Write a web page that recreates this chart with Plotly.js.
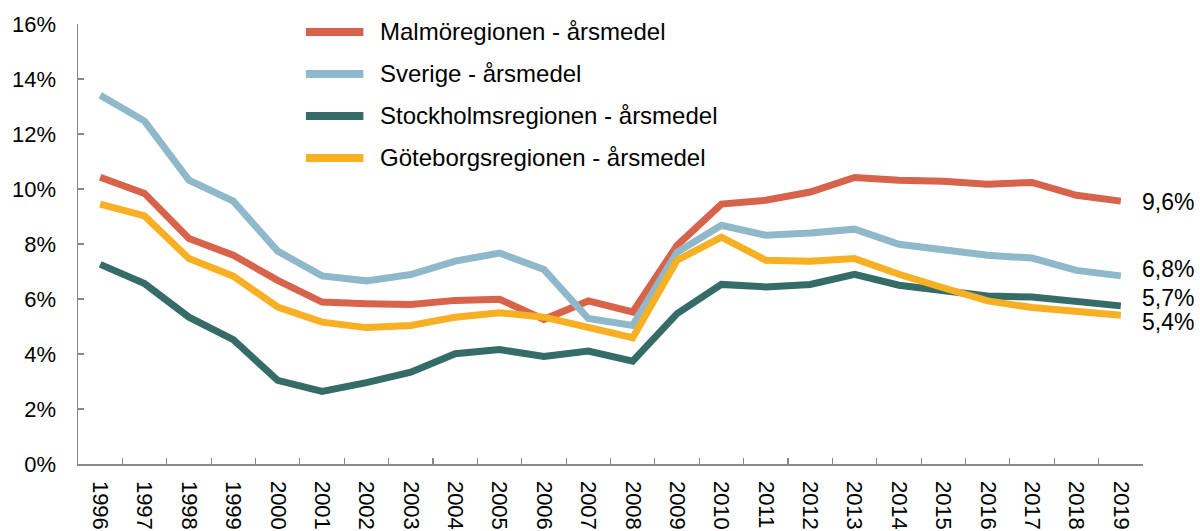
<!DOCTYPE html>
<html>
<head>
<meta charset="utf-8">
<script src="https://cdn.plot.ly/plotly-3.0.1.min.js"></script>
<style>html,body{margin:0;padding:0;background:#fff;}#chart{width:1200px;height:531px;}</style>
</head>
<body>
<div id="chart"></div>
<script>
const years = ['1996','1997','1998','1999','2000','2001','2002','2003','2004','2005','2006','2007','2008','2009','2010','2011','2012','2013','2014','2015','2016','2017','2018','2019'];
const seriesNames = ['Malmöregionen - årsmedel','Sverige - årsmedel','Stockholmsregionen - årsmedel','Göteborgsregionen - årsmedel'];
const malmo = [10.43,9.84,8.2,7.59,6.68,5.89,5.83,5.8,5.95,5.99,5.26,5.93,5.53,7.95,9.45,9.59,9.89,10.42,10.32,10.28,10.17,10.24,9.77,9.56];
const sverige = [13.41,12.47,10.32,9.56,7.74,6.84,6.66,6.89,7.38,7.67,7.07,5.29,5.04,7.7,8.68,8.32,8.4,8.54,7.99,7.81,7.59,7.49,7.04,6.84];
const stockholm = [7.26,6.56,5.34,4.52,3.04,2.64,2.96,3.34,4.01,4.16,3.91,4.11,3.74,5.47,6.53,6.44,6.53,6.9,6.5,6.32,6.11,6.07,5.93,5.75];
const goteborg = [9.45,9.02,7.47,6.83,5.71,5.16,4.96,5.04,5.34,5.5,5.34,4.96,4.59,7.41,8.25,7.41,7.37,7.47,6.9,6.41,5.93,5.69,5.56,5.41];
const endLabels = ['9,6%','6,8%','5,7%','5,4%'];
const yTickVals = [0,2,4,6,8,10,12,14,16];
const yTickText = ['0%','2%','4%','6%','8%','10%','12%','14%','16%'];

const colors = ['#D6634A','#8FB8CA','#356C68','#F7B024'];
const allSeries = [malmo, sverige, stockholm, goteborg];
const labelShift = [-1, 7, 8, -7];
const FONT = 'Liberation Sans, Arial, sans-serif';

const traces = allSeries.map((vals, i) => ({
  x: years, y: vals, type: 'scatter', mode: 'lines', name: seriesNames[i],
  line: {color: colors[i], width: 7, shape: 'linear'},
  showlegend: false, hoverinfo: 'x+y+name'
}));

const annotations = [];
const shapes = [];
// custom legend
const legendTop = 0.982, legendStep = 0.0955;
seriesNames.forEach((n, i) => {
  const yy = legendTop - i * legendStep;
  shapes.push({type: 'line', xref: 'paper', yref: 'paper', x0: 0.214, x1: 0.268, y0: yy, y1: yy,
    line: {color: colors[i], width: 8}});
  annotations.push({xref: 'paper', yref: 'paper', x: 0.2815, y: yy, xanchor: 'left', yanchor: 'middle',
    text: n, showarrow: false, font: {family: FONT, size: 24, color: '#000'}});
});
// end labels
allSeries.forEach((vals, i) => {
  annotations.push({xref: 'paper', yref: 'y', x: 1.0, y: vals[vals.length - 1], yshift: labelShift[i],
    xanchor: 'left', yanchor: 'middle', xshift: -2, text: endLabels[i], showarrow: false,
    borderpad: 0, font: {family: FONT, size: 23, color: '#000'}});
});

const layout = {
  width: 1200, height: 531,
  margin: {l: 78, r: 57, t: 24, b: 67},
  paper_bgcolor: '#fff', plot_bgcolor: '#fff',
  font: {family: FONT, size: 22, color: '#000'},
  showlegend: false,
  xaxis: {
    type: 'category', range: [-0.5, 23.5], tickangle: 90,
    showline: true, linecolor: '#888', linewidth: 1.5,
    ticks: 'inside', ticklen: 6, tickcolor: '#888', tickwidth: 1.2, tickson: 'boundaries',
    showgrid: false, zeroline: false, ticklabelstandoff: 11,
    tickfont: {family: FONT, size: 22, color: '#000'}
  },
  yaxis: {
    range: [0, 16], tickvals: yTickVals, ticktext: yTickText,
    showline: true, linecolor: '#888', linewidth: 1.5,
    ticks: 'inside', ticklen: 6, tickcolor: '#888', tickwidth: 1.2,
    showgrid: false, zeroline: false, ticklabelstandoff: 16,
    tickfont: {family: FONT, size: 22, color: '#000'}
  },
  shapes: shapes, annotations: annotations
};

Plotly.newPlot('chart', traces, layout, {displayModeBar: false, staticPlot: true});
</script>
</body>
</html>
